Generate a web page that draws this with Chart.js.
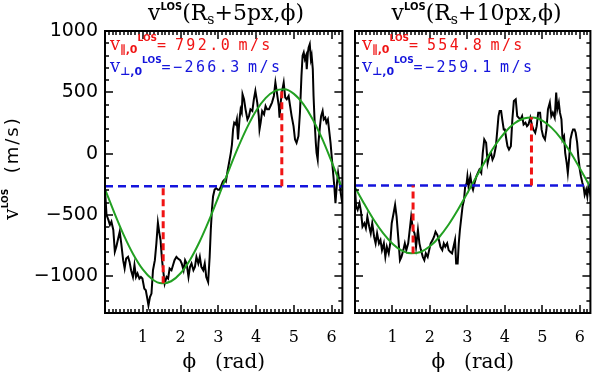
<!DOCTYPE html>
<html>
<head>
<meta charset="utf-8">
<script src="https://cdn.jsdelivr.net/npm/chart.js@4.4.0/dist/chart.umd.min.js"></script>
<style>
  html, body { margin: 0; padding: 0; background: #fff; }
  #wrap { position: relative; width: 600px; height: 373px; overflow: hidden; }
  canvas { position: absolute; top: 0; }
  #leftChart { left: 0; }
  #rightChart { left: 350px; }
  .ttl { position: absolute; top: 0; height: 26px; line-height: 26px; font: 22px "DejaVu Serif", serif; text-align: center; white-space: nowrap; color: #000; }
  .ttl .sp { font: bold 10px "DejaVu Sans", sans-serif; position: relative; top: -10px; line-height: 0; }
  .ttl .sb { font-size: 14px; position: relative; top: 4px; line-height: 0; }
  .ann { position: absolute; font: 15px "DejaVu Sans Mono", monospace; line-height: 16px; letter-spacing: 2.4px; white-space: nowrap; }
  .ann .v { font: 18px "DejaVu Serif", serif; letter-spacing: 0; line-height: 0; }
  .ann .sb { font: bold 11px "DejaVu Sans", sans-serif; letter-spacing: 0; position: relative; top: 3px; line-height: 0; }
  .ann .sp { font: bold 9px "DejaVu Sans", sans-serif; letter-spacing: 0; position: relative; top: -9px; line-height: 0; }
  .ann .t { word-spacing: -5px; }
  .red { color: #f01414; }
  .blue { color: #1414dc; }
  .ylab { position: absolute; left: -54px; top: 156px; width: 130px; height: 24px; line-height: 24px; text-align: center; transform: rotate(-90deg); font: 18px "DejaVu Sans", sans-serif; letter-spacing: 2px; white-space: nowrap; }
  .ylab .v { font: 20px "DejaVu Serif", serif; letter-spacing: 0; }
  .ylab .sp { font: bold 9px "DejaVu Sans", sans-serif; letter-spacing: 0; position: relative; top: -10px; line-height: 0; }
</style>
</head>
<body>
<div id="wrap">
  <canvas id="leftChart" width="352" height="373"></canvas>
  <canvas id="rightChart" width="250" height="373"></canvas>

  <div class="ttl" style="left:105px;width:242px;">v<span class="sp">LOS</span>(R<span class="sb">s</span>+5px,ϕ)</div>
  <div class="ttl" style="left:355px;width:243px;">v<span class="sp">LOS</span>(R<span class="sb">s</span>+10px,ϕ)</div>

  <div class="ann red" style="left:110px;top:37px;"><span class="v">v</span><span class="sb">∥,0</span><span class="sp">LOS</span><span class="t">= 792.0 m/s</span></div>
  <div class="ann blue" style="left:110px;top:59px;"><span class="v">v</span><span class="sb">⊥,0</span><span class="sp">LOS</span><span class="t">=−266.3 m/s</span></div>
  <div class="ann red" style="left:362px;top:37px;"><span class="v">v</span><span class="sb">∥,0</span><span class="sp">LOS</span><span class="t">= 554.8 m/s</span></div>
  <div class="ann blue" style="left:362px;top:59px;"><span class="v">v</span><span class="sb">⊥,0</span><span class="sp">LOS</span><span class="t">=−259.1 m/s</span></div>

  <div class="ylab"><span class="v">v</span><span class="sp">LOS</span>&nbsp;&nbsp;(m/s)</div>
</div>

<script>
const TWO_PI = 6.2832;

// tick labels
const xTicks = [1, 2, 3, 4, 5, 6];
const yTicks = [-1000, -500, 0, 500, 1000];

// Rs + 5px, measured LOS velocity
const phiLeft = [0.00,0.04,0.09,0.13,0.17,0.22,0.26,0.30,0.35,0.39,
  0.43,0.48,0.52,0.56,0.61,0.65,0.69,0.74,0.78,0.82,
  0.86,0.91,0.95,0.99,1.04,1.08,1.12,1.15,1.19,1.23,
  1.27,1.32,1.36,1.40,1.44,1.47,1.51,1.55,1.58,1.63,
  1.67,1.71,1.76,1.80,1.84,1.89,1.93,1.99,2.03,2.08,
  2.12,2.16,2.21,2.25,2.29,2.34,2.38,2.42,2.47,2.51,
  2.55,2.60,2.64,2.68,2.73,2.77,2.80,2.83,2.86,2.90,
  2.94,2.99,3.03,3.07,3.12,3.16,3.20,3.25,3.29,3.33,
  3.36,3.39,3.42,3.46,3.49,3.52,3.56,3.59,3.62,3.64,
  3.68,3.72,3.77,3.81,3.85,3.90,3.94,3.98,4.03,4.07,
  4.09,4.12,4.16,4.21,4.25,4.29,4.34,4.38,4.42,4.47,
  4.51,4.55,4.60,4.62,4.65,4.68,4.73,4.77,4.81,4.86,
  4.90,4.94,4.99,5.03,5.07,5.12,5.16,5.20,5.23,5.26,
  5.29,5.32,5.34,5.37,5.39,5.42,5.45,5.47,5.50,5.52,
  5.55,5.58,5.60,5.63,5.65,5.69,5.72,5.76,5.79,5.83,
  5.86,5.90,5.93,5.97,6.00,6.03,6.07,6.10,6.14,6.17,
  6.21,6.24,6.28];
const vLeft = [-295,-500,-541,-582,-555,-623,-801,-760,-691,-637,
  -732,-869,-937,-855,-842,-883,-951,-1006,-910,-1006,
  -978,-1019,-1006,-1019,-1101,-1115,-1183,-1238,-1170,-1142,
  -951,-869,-732,-563,-650,-705,-869,-978,-1060,-1006,
  -1019,-937,-951,-910,-869,-842,-855,-869,-896,-951,
  -869,-896,-1006,-924,-896,-951,-924,-842,-896,-842,
  -924,-951,-896,-1006,-1047,-842,-623,-459,-350,-295,
  -281,-295,-295,-268,-227,-213,-227,-131,-63,6,
  74,197,252,238,279,115,279,361,334,484,
  443,361,279,306,361,347,443,511,416,306,
  197,252,347,320,388,361,361,388,416,470,
  580,498,388,293,416,498,580,457,443,470,
  388,306,224,115,88,142,334,634,798,825,
  770,798,689,825,866,893,770,798,689,470,
  252,88,6,-49,88,224,306,347,279,293,
  252,279,197,88,-22,-131,-268,-404,-240,-158,
  -240,-322,-404];

// Rs + 10px, measured LOS velocity
const phiRight = [0.00,0.03,0.07,0.12,0.16,0.20,0.25,0.29,0.33,0.38,
  0.42,0.46,0.51,0.55,0.59,0.64,0.68,0.72,0.77,0.81,
  0.85,0.90,0.94,0.98,1.03,1.07,1.11,1.16,1.20,1.24,
  1.29,1.33,1.37,1.42,1.46,1.50,1.55,1.59,1.63,1.68,
  1.72,1.76,1.81,1.85,1.89,1.94,1.98,2.02,2.07,2.11,
  2.15,2.20,2.24,2.28,2.33,2.37,2.41,2.46,2.50,2.54,
  2.59,2.63,2.67,2.70,2.74,2.77,2.80,2.84,2.87,2.91,
  2.94,2.98,3.00,3.03,3.06,3.08,3.12,3.15,3.19,3.24,
  3.28,3.32,3.37,3.41,3.45,3.50,3.54,3.58,3.63,3.67,
  3.71,3.76,3.80,3.83,3.86,3.90,3.93,3.97,4.00,4.04,
  4.07,4.11,4.16,4.20,4.24,4.29,4.33,4.37,4.42,4.46,
  4.50,4.55,4.59,4.63,4.68,4.72,4.76,4.81,4.85,4.89,
  4.94,4.98,5.02,5.07,5.11,5.15,5.20,5.24,5.28,5.33,
  5.37,5.40,5.44,5.47,5.51,5.54,5.58,5.61,5.65,5.68,
  5.72,5.75,5.79,5.82,5.86,5.89,5.93,5.96,6.00,6.03,
  6.07,6.10,6.13,6.17,6.20,6.23,6.27,6.283];
const vRight = [-289,-432,-459,-404,-473,-596,-568,-609,-514,-596,
  -650,-568,-678,-732,-650,-732,-705,-787,-732,-842,
  -760,-814,-732,-568,-486,-418,-514,-705,-869,-842,
  -787,-732,-787,-732,-623,-514,-623,-650,-760,-623,
  -732,-787,-842,-869,-814,-842,-787,-732,-705,-678,
  -637,-664,-705,-760,-787,-732,-760,-732,-787,-801,
  -814,-760,-705,-896,-896,-732,-623,-514,-432,-377,
  -268,-240,-186,-268,-213,-186,-268,-295,-240,-186,
  -158,-131,-158,6,115,88,-76,-22,6,-49,
  -22,60,197,306,347,347,279,197,197,115,
  60,33,60,279,429,443,306,293,279,306,
  238,252,224,238,293,238,197,170,224,334,
  334,197,142,115,197,361,416,306,334,293,
  498,361,416,334,279,115,142,6,-76,-158,
  -22,115,170,197,197,170,88,-22,-131,-186,
  -240,-268,-336,-295,-350,-268,-322,-281];

// sinusoidal fits (green)
const fitPhi = [0,0.25,0.5,0.75,1,1.25,1.5,1.75,2,2.25,2.5,2.75,3,3.25,3.5,
  3.75,4,4.25,4.5,4.75,5,5.25,5.5,5.75,6,6.25,6.283];
const fitLeft = [-290,-485,-667,-823,-945,-1025,-1058,-1041,-976,-867,-721,-547,-354,
  -157,34,206,350,453,512,524,487,403,279,120,-67,-264,-290];
const fitRight = [-276,-412,-540,-649,-735,-791,-813,-802,-756,-680,-578,-456,-321,
  -182,-49,72,172,245,286,294,269,210,123,11,-120,-257,-276];

// fit parameters
const perpLeft = -266.3, parLeft = 792.0;
const perpRight = -259.1, parRight = 554.8;
const extremaLeft = [1.54, 4.68];
const extremaRight = [1.55, 4.71];

const RED = '#f01414';
const BLUE = '#1414dc';
const GREEN = '#22a022';

function pts(xs, ys) {
  return xs.map((x, i) => ({ x: x, y: ys[i] }));
}

// IDL style box with inward ticks on all four sides
const frameTicks = {
  id: 'frameTicks',
  afterDatasetsDraw(chart) {
    const { ctx, chartArea: a, scales } = chart;
    const xs = scales.x, ys = scales.y;
    ctx.save();
    ctx.strokeStyle = '#000';
    ctx.lineWidth = 1.5;
    ctx.beginPath();
    for (let i = 1; i <= 62; i++) {
      const px = Math.round(xs.getPixelForValue(i / 10));
      const len = (i % 10 === 0) ? 8 : 4;
      ctx.moveTo(px, a.bottom); ctx.lineTo(px, a.bottom - len);
      ctx.moveTo(px, a.top); ctx.lineTo(px, a.top + len);
    }
    for (let v = -1200; v <= 1000; v += 100) {
      const py = Math.round(ys.getPixelForValue(v));
      const len = (v % 500 === 0) ? 8 : 4;
      ctx.moveTo(a.left, py); ctx.lineTo(a.left + len, py);
      ctx.moveTo(a.right, py); ctx.lineTo(a.right - len, py);
    }
    ctx.stroke();
    ctx.lineWidth = 2;
    ctx.strokeRect(a.left, a.top, a.right - a.left, a.bottom - a.top);
    ctx.restore();
  }
};

function buildChart(id, cfg) {
  return new Chart(document.getElementById(id), {
    type: 'line',
    data: {
      datasets: [
        { label: 'par-min', data: [{ x: cfg.ext[0], y: cfg.perp - cfg.par }, { x: cfg.ext[0], y: cfg.perp }],
          borderColor: RED, borderWidth: 3, borderDash: [7, 4], pointRadius: 0, order: 0 },
        { label: 'par-max', data: [{ x: cfg.ext[1], y: cfg.perp }, { x: cfg.ext[1], y: cfg.perp + cfg.par }],
          borderColor: RED, borderWidth: 3, borderDash: [7, 4], pointRadius: 0, order: 0 },
        { label: 'perp', data: [{ x: 0, y: cfg.perp }, { x: TWO_PI, y: cfg.perp }],
          borderColor: BLUE, borderWidth: 2.5, borderDash: [8, 5], pointRadius: 0, order: 1 },
        { label: 'fit', data: pts(fitPhi, cfg.fit),
          borderColor: GREEN, borderWidth: 2, pointRadius: 0, cubicInterpolationMode: 'monotone', order: 2 },
        { label: 'vlos', data: pts(cfg.phi, cfg.v),
          borderColor: '#000', borderWidth: 2, pointRadius: 0, tension: 0, order: 3 }
      ]
    },
    options: {
      responsive: false,
      animation: false,
      devicePixelRatio: 1,
      layout: { padding: { top: 31, right: cfg.padRight, left: 0, bottom: 0 } },
      plugins: { legend: { display: false }, tooltip: { enabled: false } },
      scales: {
        x: {
          type: 'linear', min: 0, max: TWO_PI,
          afterBuildTicks: s => { s.ticks = xTicks.map(v => ({ value: v })); },
          afterFit: s => { s.height = 60; },
          grid: { display: false, drawTicks: false },
          border: { display: false },
          ticks: { autoSkip: false, maxRotation: 0, padding: 15, color: '#000',
                   font: { family: 'DejaVu Serif', size: 16 }, callback: v => String(v) },
          title: { display: true, text: 'ϕ   (rad)', color: '#000',
                   font: { family: 'DejaVu Serif', size: 20, lineHeight: 1 }, padding: { top: 0, bottom: 0 } }
        },
        y: {
          type: 'linear', min: -1300, max: 1000,
          afterBuildTicks: s => { s.ticks = yTicks.map(v => ({ value: v })); },
          afterFit: s => { s.width = cfg.yWidth; },
          grid: { display: false, drawTicks: false },
          border: { display: false },
          ticks: { display: cfg.showY, padding: 7, color: '#000',
                   font: { family: 'DejaVu Sans', size: 19 },
                   callback: v => v < 0 ? '\u2212' + Math.abs(v) : String(v) }
        }
      }
    },
    plugins: [frameTicks]
  });
}

buildChart('leftChart', { phi: phiLeft, v: vLeft, fit: fitLeft, perp: perpLeft, par: parLeft,
  ext: extremaLeft, yWidth: 105, padRight: 5, showY: true });
buildChart('rightChart', { phi: phiRight, v: vRight, fit: fitRight, perp: perpRight, par: parRight,
  ext: extremaRight, yWidth: 5, padRight: 2.5, showY: false });
</script>
</body>
</html>
